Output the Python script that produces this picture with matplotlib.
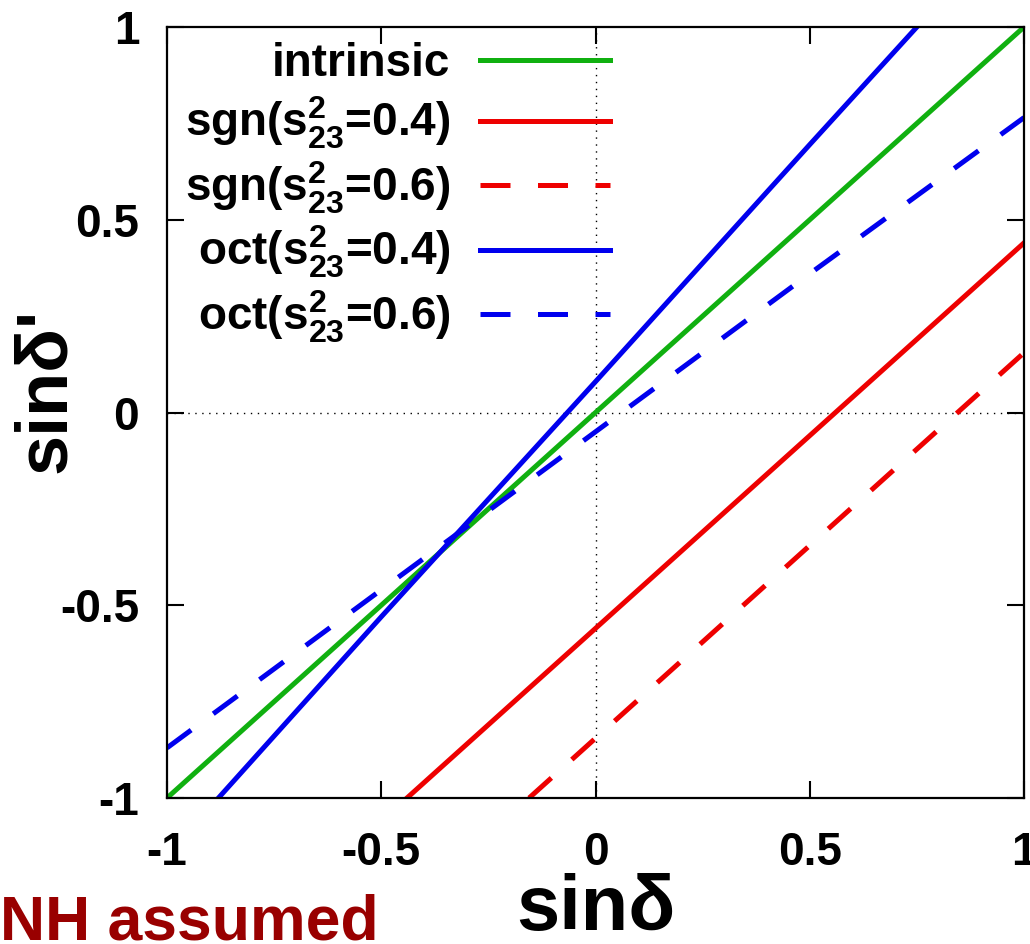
import matplotlib
matplotlib.use("Agg")
import matplotlib.pyplot as plt
from matplotlib import font_manager

# ---- data ----
x_intrinsic = [-1.0, -0.5, 0.0, 0.5, 1.0]
y_intrinsic = [-1.0, -0.5, 0.0, 0.5, 1.0]

x_sgn04 = [-0.44, 0.0, 0.5, 1.0]
y_sgn04 = [-1.0, -0.56, -0.06, 0.44]

x_sgn06 = [-0.155, 0.0, 0.5, 1.0]
y_sgn06 = [-1.0, -0.845, -0.345, 0.155]

x_oct04 = [-0.88, -0.5, 0.0, 0.5, 0.75]
y_oct04 = [-1.0, -0.53, 0.08, 0.695, 1.0]

x_oct06 = [-1.0, -0.5, 0.0, 0.5, 1.0]
y_oct06 = [-0.87, -0.46, -0.05, 0.36, 0.765]

labels = ["intrinsic",
          r"sgn($s^{2}_{23}$=0.4)",
          r"sgn($s^{2}_{23}$=0.6)",
          r"oct($s^{2}_{23}$=0.4)",
          r"oct($s^{2}_{23}$=0.6)"]
ticks = [-1, -0.5, 0, 0.5, 1]
tick_labels = ["-1", "-0.5", "0", "0.5", "1"]

GREEN = "#10B010"
RED = "#EE0000"
BLUE = "#0000EE"

plt.rcParams["font.family"] = ["Liberation Sans", "DejaVu Sans"]
plt.rcParams["font.weight"] = "bold"
plt.rcParams["mathtext.fontset"] = "custom"
plt.rcParams["mathtext.rm"] = "Liberation Sans:bold"
plt.rcParams["mathtext.it"] = "Liberation Sans:bold"
plt.rcParams["mathtext.bf"] = "Liberation Sans:bold"
plt.rcParams["mathtext.default"] = "rm"

narrow = None
try:
    f = font_manager.findfont(font_manager.FontProperties(family="Liberation Sans Narrow", weight="bold"),
                              fallback_to_default=False)
    if "Narrow" in f:
        narrow = "Liberation Sans Narrow"
except Exception:
    pass

fig = plt.figure(figsize=(10.30, 9.44), dpi=100)
ax = fig.add_axes([167/1030, 1-798/944, (1024-167)/1030, (798-27)/944])

lw = 3.6
dash = (0, (6, 5.5))
ax.plot(x_intrinsic, y_intrinsic, color=GREEN, lw=lw, label=labels[0])
ax.plot(x_sgn04, y_sgn04, color=RED, lw=lw, label=labels[1])
ax.plot(x_sgn06, y_sgn06, color=RED, lw=lw, ls=dash, label=labels[2])
ax.plot(x_oct04, y_oct04, color=BLUE, lw=lw, label=labels[3])
ax.plot(x_oct06, y_oct06, color=BLUE, lw=lw, ls=dash, label=labels[4])

ax.axhline(0, color="black", lw=1, ls=(0, (1, 4)), zorder=0)
ax.axvline(0, color="black", lw=1, ls=(0, (1, 4)), zorder=0)

ax.set_xlim(-1, 1)
ax.set_ylim(-1, 1)
ax.set_xticks(ticks)
ax.set_yticks(ticks)
ax.set_xticklabels(tick_labels)
ax.set_yticklabels(tick_labels)
ax.tick_params(direction="in", length=12, width=1.5, top=True, right=True,
               labelsize=33, pad=20)
ax.tick_params(axis="x", pad=24)
for s in ax.spines.values():
    s.set_linewidth(1.6)

ax.set_xlabel("sinδ", fontsize=56, fontweight="bold", labelpad=-2)
if narrow:
    ax.set_ylabel("sinδ'", fontsize=58, fontweight="bold", family=[narrow, "DejaVu Sans"])
else:
    ax.set_ylabel("sinδ'", fontsize=52, fontweight="bold")
ax.yaxis.label.set_va("center")
ax.yaxis.set_label_coords((46-167)/857, (798-390)/771)

leg = ax.legend(loc="upper right", bbox_to_anchor=((610-167)/857, 0.98),
                frameon=False, markerfirst=False, fontsize=33,
                handlelength=2.83, handletextpad=0.65, labelspacing=0.18,
                borderpad=0, borderaxespad=0)

fig.text(0.0, 1-939/944, "NH assumed", color="#990000", fontsize=45,
         fontweight="bold", ha="left", va="baseline")

fig.savefig("out.png", dpi=100)
